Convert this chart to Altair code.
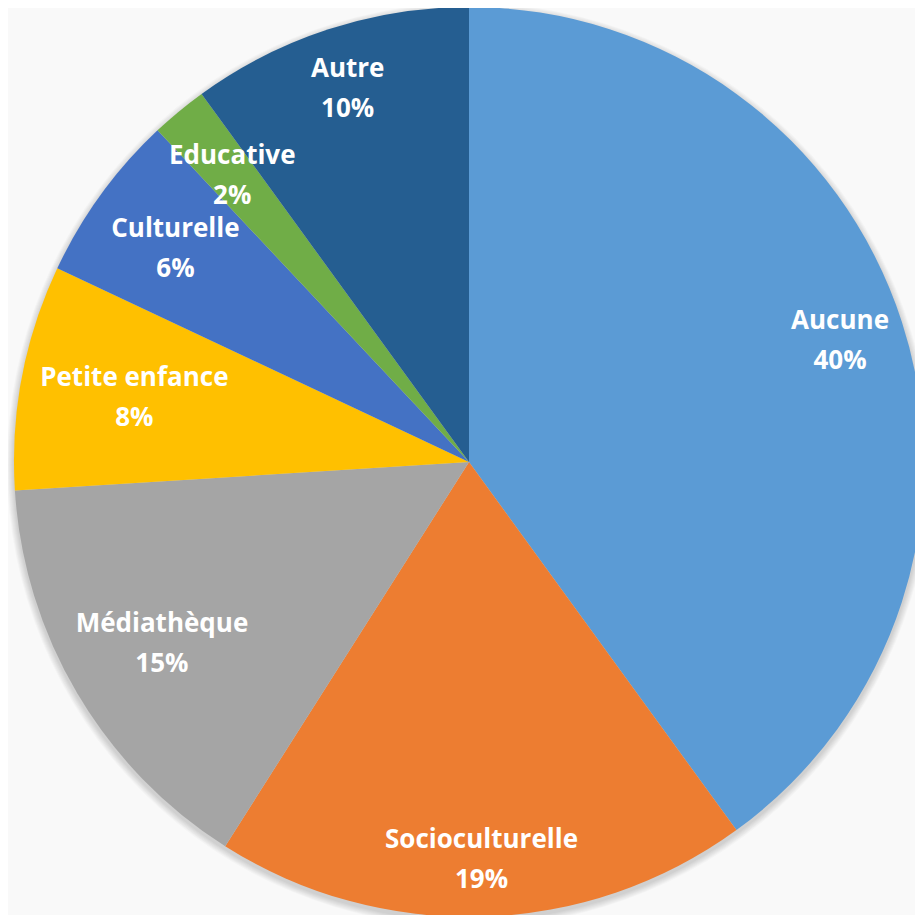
import altair as alt
import pandas as pd

# ---- data ----
categories = ["Aucune", "Socioculturelle", "Médiathèque", "Petite enfance",
              "Culturelle", "Educative", "Autre"]
shares = [40, 19, 15, 8, 6, 2, 10]
colors = ["#5B9BD5", "#ED7D31", "#A5A5A5", "#FFC000",
          "#4472C4", "#70AD47", "#255E91"]

# ---- layout / style ----
W = H = 907
CX, CY = 461, 454
R = 455
FONT = "Open Sans"
FONT_SIZE = 26
LINE_H = 40
CHAR_W = 13.5

df = pd.DataFrame({"cat": categories, "share": shares,
                   "order": list(range(len(categories)))})

color_scale = alt.Scale(domain=categories, range=colors)

pie = alt.Chart(df).mark_arc(radius=R, stroke=None).encode(
    x=alt.value(CX), y=alt.value(CY),
    theta=alt.Theta("share:Q", stack=True),
    order=alt.Order("order:Q"),
    color=alt.Color("cat:N", scale=color_scale, legend=None),
)

labels = alt.Chart(df).transform_window(
    cum="sum(share)", sort=[alt.SortField("order")], frame=[None, 0]
).transform_joinaggregate(
    total="sum(share)"
).transform_calculate(
    pct="datum.share + '%'",
    mid="(datum.cum - datum.share / 2) / datum.total * 2 * PI",
).transform_calculate(
    label="datum.cat + '\\n' + datum.pct",
    lw=f"max(length(datum.cat), length(datum.pct)) * {CHAR_W}",
).transform_calculate(
    lr=f"{R} - 14 - datum.lw / 2 * abs(sin(datum.mid)) - {LINE_H} * abs(cos(datum.mid))",
).mark_text(
    font=FONT, fontSize=FONT_SIZE, fontWeight="bold", color="white",
    lineBreak="\n", lineHeight=LINE_H, align="center", baseline="middle",
    dy=-LINE_H / 2,
).encode(
    x=alt.value(CX), y=alt.value(CY),
    theta=alt.Theta("mid:Q", scale=None),
    radius=alt.Radius("lr:Q", scale=None),
    text="label:N",
)

shadow_layers = []
for k in range(1, 8):
    shadow_layers.append(
        alt.Chart(pd.DataFrame({"k": [k]})).mark_arc(
            theta=0, theta2=6.2832, radius=R + k, color="black", opacity=0.022,
        ).encode(x=alt.value(CX), y=alt.value(CY + 3))
    )

chart = alt.layer(*shadow_layers, pie, labels).properties(
    width=W, height=H, padding=0, autosize=alt.AutoSizeParams(type="none"),
    background="#f9f9f9",
).configure_view(stroke=None)

chart.save("out.html", embed_options={"renderer": "svg", "actions": False})
